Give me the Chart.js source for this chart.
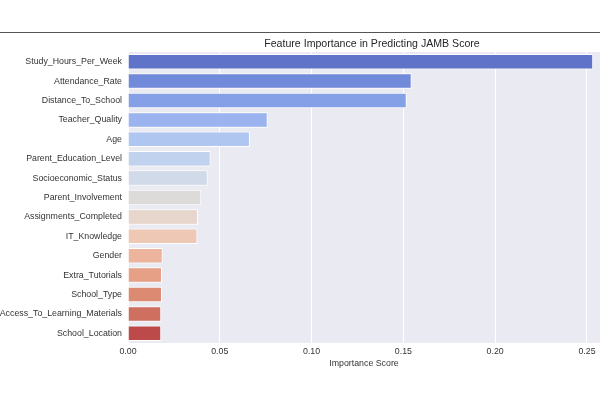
<!DOCTYPE html>
<html>
<head>
<meta charset="utf-8">
<script src="https://cdn.jsdelivr.net/npm/chart.js@4"></script>
<style>
  html, body { margin: 0; padding: 0; background: #fff; overflow: hidden; }
  #wrap { width: 600px; height: 402px; }
</style>
</head>
<body>
<div id="wrap"><canvas id="chart"></canvas></div>
<script>
const features = [
  "Study_Hours_Per_Week", "Attendance_Rate", "Distance_To_School", "Teacher_Quality", "Age",
  "Parent_Education_Level", "Socioeconomic_Status", "Parent_Involvement", "Assignments_Completed",
  "IT_Knowledge", "Gender", "Extra_Tutorials", "School_Type", "Access_To_Learning_Materials",
  "School_Location"
]
const importance = [
  0.2534, 0.1545, 0.1518, 0.0761, 0.0664,
  0.0450, 0.0434, 0.0399, 0.0381,
  0.0378, 0.0189, 0.0185, 0.0185, 0.0181,
  0.0181
]
const barColors = [
  "#5f74c9", "#718ad9", "#85a0e6", "#9bb4ef", "#afc6f1",
  "#c1d2ee", "#d1dae8", "#dcdbda", "#e7d6cb",
  "#eec7b5", "#ecb39d", "#e6a086", "#dd8a72", "#ce6f5f",
  "#bd4a4a"
]
const xTicks = [0, 0.05, 0.1, 0.15, 0.2, 0.25]

const fontFamily = "'Liberation Sans', Arial, sans-serif"

// plot background, top rule and title
const decor = {
  id: "decor",
  beforeDraw(chart) {
    const { ctx, chartArea } = chart
    ctx.save()
    ctx.fillStyle = "#eaeaf2"
    ctx.fillRect(chartArea.left, chartArea.top, chartArea.right - chartArea.left, chartArea.bottom - chartArea.top)
    ctx.restore()
  },
  afterDraw(chart) {
    const { ctx } = chart
    ctx.save()
    ctx.strokeStyle = "#555"
    ctx.lineWidth = 1
    ctx.beginPath()
    ctx.moveTo(0, 32.5)
    ctx.lineTo(600, 32.5)
    ctx.stroke()
    ctx.fillStyle = "#262626"
    ctx.font = "10.6px " + fontFamily
    ctx.textAlign = "center"
    ctx.textBaseline = "middle"
    ctx.fillText("Feature Importance in Predicting JAMB Score", 372, 44)
    ctx.restore()
  },
}

new Chart(document.getElementById("chart"), {
  type: "bar",
  data: {
    labels: features,
    datasets: [
      {
        data: importance,
        backgroundColor: barColors,
        borderColor: "#ffffff",
        borderWidth: 1,
        barPercentage: 0.8,
        categoryPercentage: 1,
      },
    ],
  },
  options: {
    indexAxis: "y",
    responsive: true,
    maintainAspectRatio: false,
    animation: false,
    layout: { padding: { top: 52, left: 0, right: 0, bottom: 33 } },
    scales: {
      x: {
        min: 0,
        max: 0.2571,
        afterBuildTicks: (axis) => {
          axis.ticks = xTicks.map((v) => ({ value: v }))
        },
        afterFit: (axis) => {
          axis.height = 26
        },
        grid: { color: "#ffffff", lineWidth: 1, drawTicks: false },
        border: { display: false },
        ticks: {
          padding: 3,
          color: "#333",
          font: { family: fontFamily, size: 8.8 },
          callback: (v) => Number(v).toFixed(2),
        },
        title: {
          display: true,
          text: "Importance Score",
          color: "#333",
          padding: { top: 0, bottom: 0 },
          font: { family: fontFamily, size: 8.8 },
        },
      },
      y: {
        afterFit: (axis) => {
          axis.width = 128
        },
        grid: { display: false, drawTicks: false },
        border: { display: false },
        ticks: {
          padding: 6,
          color: "#333",
          font: { family: fontFamily, size: 8.8 },
        },
      },
    },
    plugins: {
      legend: { display: false },
      tooltip: { enabled: false },
    },
  },
  plugins: [decor],
})
</script>
</body>
</html>
